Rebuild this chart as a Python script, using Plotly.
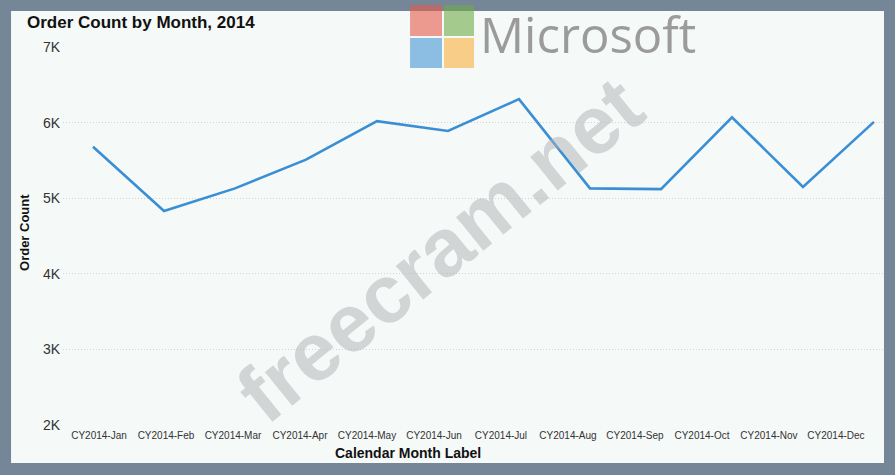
import plotly.graph_objects as go

months = ["CY2014-Jan", "CY2014-Feb", "CY2014-Mar", "CY2014-Apr", "CY2014-May", "CY2014-Jun",
          "CY2014-Jul", "CY2014-Aug", "CY2014-Sep", "CY2014-Oct", "CY2014-Nov", "CY2014-Dec"]
order_count = [5680, 4830, 5130, 5510, 6020, 5890, 6310, 5130, 5120, 6070, 5150, 6010]
y_ticks = [2000, 3000, 4000, 5000, 6000, 7000]
y_labels = ["2K", "3K", "4K", "5K", "6K", "7K"]

FONT = "Liberation Sans, Arial, sans-serif"

fig = go.Figure()
fig.add_trace(go.Scatter(x=months, y=order_count, mode="lines",
                         line=dict(color="#3a8fd4", width=2.6), hoverinfo="x+y"))
# invisible helper so the label axis gets drawn
fig.add_trace(go.Scatter(x=list(range(len(months))), y=order_count, xaxis="x2",
                         mode="lines", opacity=0, hoverinfo="skip", showlegend=False))

fig.update_layout(
    width=895, height=475,
    margin=dict(l=63, r=11, t=47, b=50),
    paper_bgcolor="#768699",
    plot_bgcolor="rgba(0,0,0,0)",
    showlegend=False,
    font=dict(family=FONT, color="#333333"),
    xaxis=dict(type="category", range=[-0.4225, 11.141], showticklabels=False,
               showgrid=False, zeroline=False, showline=False, ticks="", automargin=False),
    xaxis2=dict(overlaying="x", anchor="y", side="bottom", range=[-0.537, 11.717],
                tickmode="array", tickvals=list(range(len(months))), ticktext=months,
                tickfont=dict(size=10, color="#333333"), showgrid=False, zeroline=False,
                showline=False, ticks="", automargin=False, ticklabelstandoff=3),
    yaxis=dict(range=[2000, 7000], tickvals=y_ticks, ticktext=y_labels,
               tickfont=dict(size=14, color="#333333"), showgrid=True,
               gridcolor="#cfd4d4", griddash="1px,2px", gridwidth=1,
               zeroline=False, showline=False, ticks="", ticklabelstandoff=2, automargin=False),
)

# white panel inside the grey frame
fig.add_shape(type="rect", xref="paper", yref="paper", x0=-0.0633, x1=1.0, y0=-0.1005, y1=1.0952,
              fillcolor="#f5f9f8", line=dict(width=0), layer="below")

# watermark logo
logo = [("rgba(230,90,75,0.6)", 0.4227, 0.4616, 1.0291, 1.1111),
        ("rgba(110,170,70,0.6)", 0.4641, 0.5006, 1.0291, 1.1111),
        ("rgba(70,150,215,0.6)", 0.4227, 0.4616, 0.9444, 1.0238),
        ("rgba(250,175,60,0.6)", 0.4641, 0.5006, 0.9444, 1.0238)]
for c, x0, x1, y0, y1 in logo:
    fig.add_shape(type="rect", xref="paper", yref="paper", x0=x0, x1=x1, y0=y0, y1=y1,
                  fillcolor=c, line=dict(width=0), layer="above")

fig.add_annotation(text="Microsoft", xref="paper", yref="paper", x=0.5055, y=1.034,
                   xanchor="left", yanchor="middle", showarrow=False,
                   font=dict(family="Open Sans, sans-serif", size=49, color="#9b9b9b"))
fig.add_annotation(text="<b>freecram.net</b>", xref="paper", yref="paper", x=0.459, y=0.463,
                   xanchor="center", yanchor="middle", showarrow=False, textangle=-39,
                   font=dict(family=FONT, size=82, color="rgba(175,178,177,0.5)"))

# titles
fig.add_annotation(text="<b>Order Count by Month, 2014</b>", xref="paper", yref="paper",
                   x=-0.0463, y=1.0635, xanchor="left", yanchor="middle", showarrow=False,
                   font=dict(size=17, color="#111111"))
fig.add_annotation(text="<b>Order Count</b>", xref="paper", yref="paper", x=-0.0463, y=0.5106,
                   xanchor="center", yanchor="middle", textangle=-90, showarrow=False,
                   font=dict(size=13, color="#111111"))
fig.add_annotation(text="<b>Calendar Month Label</b>", xref="paper", yref="paper", x=0.4202,
                   y=-0.0741, xanchor="center", yanchor="middle", showarrow=False,
                   font=dict(size=14, color="#111111"))

fig.write_html("out.html", config={"displayModeBar": False},
               post_script="document.body.style.margin='0';")
